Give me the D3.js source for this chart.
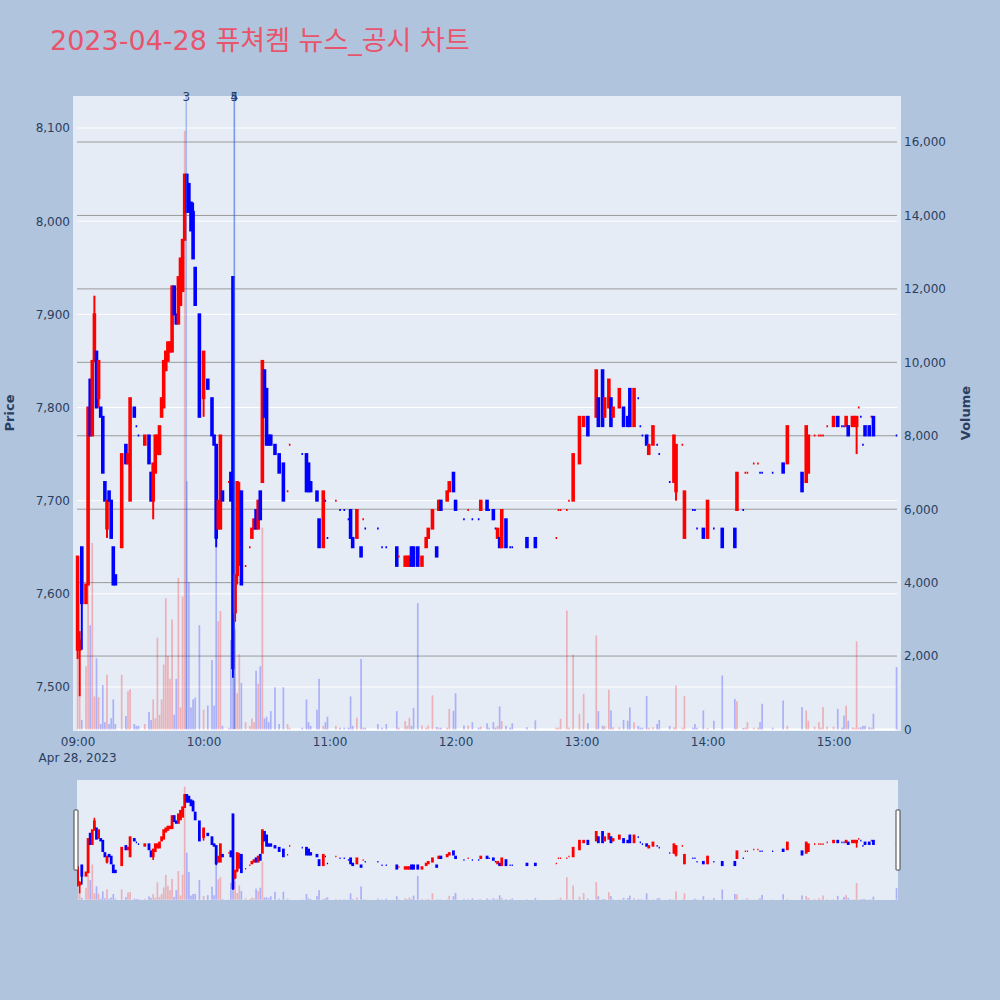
<!DOCTYPE html>
<html><head><meta charset="utf-8">
<script src="https://cdn.jsdelivr.net/npm/d3@7/dist/d3.min.js"></script>
<style>html,body{margin:0;padding:0;background:#b0c4de;}</style>
</head><body>
<svg id="chart" width="1000" height="1000" xmlns="http://www.w3.org/2000/svg"></svg>
<script>
const titleText = "2023-04-28 퓨쳐켐 뉴스_공시 차트";

const times = [
"09:00","09:01","09:02","09:04","09:05","09:06","09:07","09:08","09:09","09:10",
"09:11","09:12","09:13","09:14","09:15","09:16","09:17","09:18","09:21","09:23",
"09:24","09:25","09:27","09:28","09:29","09:32","09:34","09:35","09:36","09:37",
"09:38","09:39","09:40","09:41","09:42","09:43","09:44","09:45","09:46","09:47",
"09:48","09:49","09:50","09:51","09:52","09:53","09:54","09:55","09:56","09:58",
"10:00","10:02","10:04","10:05","10:06","10:07","10:08","10:09","10:12","10:13",
"10:14","10:15","10:16","10:17","10:18","10:20","10:22","10:23","10:24","10:25",
"10:26","10:27","10:28","10:29","10:30","10:31","10:32","10:34","10:36","10:38",
"10:40","10:41","10:47","10:49","10:50","10:51","10:54","10:55","10:57","10:58",
"10:59","11:03","11:05","11:07","11:09","11:10","11:11","11:13","11:15","11:16",
"11:17","11:23","11:25","11:27","11:32","11:33","11:36","11:37","11:38","11:39",
"11:40","11:42","11:44","11:46","11:47","11:49","11:51","11:52","11:53","11:56",
"11:57","11:59","12:00","12:04","12:06","12:08","12:11","12:12","12:15","12:16",
"12:18","12:19","12:20","12:21","12:22","12:24","12:26","12:27","12:34","12:38",
"12:48","12:49","12:50","12:53","12:54","12:56","12:59","13:01","13:03","13:07",
"13:08","13:10","13:11","13:13","13:14","13:15","13:18","13:20","13:22","13:23",
"13:25","13:27","13:28","13:29","13:31","13:32","13:34","13:36","13:37","13:42",
"13:44","13:45","13:48","13:49","13:53","13:54","13:55","13:58","14:00","14:03",
"14:07","14:13","14:14","14:17","14:18","14:19","14:22","14:24","14:25","14:26",
"14:31","14:36","14:38","14:45","14:47","14:48","14:51","14:53","14:54","14:55",
"14:57","15:00","15:02","15:04","15:05","15:06","15:07","15:09","15:10","15:11",
"15:12","15:13","15:14","15:15","15:17","15:18","15:19","15:30"
];

// [open, high, low, close]
const ohlc = [
[7540,7640,7530,7640],[7540,7560,7490,7550],[7650,7650,7540,7590],[7590,7610,7590,7610],[7610,7800,7610,7800],[7830,7830,7770,7770],[7770,7850,7770,7850],[7850,7920,7850,7900],[7860,7860,7800,7800],[7810,7850,7800,7850],
[7800,7800,7790,7790],[7790,7790,7730,7730],[7720,7720,7700,7700],[7670,7700,7660,7700],[7710,7710,7700,7700],[7700,7700,7660,7660],[7650,7650,7610,7610],[7620,7620,7610,7610],[7650,7750,7650,7750],[7760,7760,7740,7740],
[7740,7750,7740,7750],[7700,7810,7700,7810],[7800,7800,7790,7790],[7780,7780,7780,7780],[7770,7770,7770,7770],[7760,7770,7760,7770],[7770,7770,7740,7740],[7730,7730,7700,7700],[7700,7740,7680,7740],[7730,7770,7730,7770],
[7750,7770,7750,7770],[7750,7780,7750,7780],[7790,7810,7790,7810],[7800,7850,7800,7850],[7840,7860,7840,7860],[7850,7870,7850,7870],[7860,7870,7860,7870],[7860,7930,7860,7930],[7930,7930,7900,7900],[7900,7900,7890,7890],
[7890,7940,7890,7940],[7910,7960,7910,7960],[7925,7980,7925,7980],[7980,8050,7980,8050],[8050,8050,8010,8010],[8040,8040,8010,8010],[8020,8020,7990,7990],[8010,8020,7960,7960],[7950,7950,7910,7910],[7900,7900,7790,7790],
[7810,7860,7790,7860],[7830,7830,7820,7820],[7810,7810,7770,7770],[7770,7770,7760,7760],[7760,7760,7650,7660],[7670,7700,7670,7700],[7670,7770,7670,7770],[7710,7710,7700,7700],[7720,7720,7720,7720],[7730,7730,7700,7700],
[7940,7940,7510,7520],[7580,7620,7570,7620],[7620,7720,7610,7720],[7640,7720,7630,7710],[7710,7710,7610,7610],[7630,7630,7630,7630],[7650,7650,7650,7650],[7660,7670,7660,7670],[7670,7680,7670,7680],[7690,7690,7670,7670],
[7670,7700,7670,7700],[7710,7710,7680,7680],[7720,7850,7720,7850],[7840,7840,7790,7790],[7820,7820,7760,7760],[7770,7770,7760,7760],[7770,7770,7760,7760],[7760,7760,7750,7750],[7750,7750,7730,7730],[7740,7740,7700,7700],
[7710,7710,7710,7710],[7760,7760,7760,7760],[7750,7750,7750,7750],[7750,7750,7710,7710],[7740,7740,7710,7710],[7720,7720,7710,7710],[7710,7710,7700,7700],[7680,7680,7650,7650],[7650,7710,7650,7710],[7700,7700,7700,7700],
[7660,7660,7660,7660],[7700,7700,7700,7700],[7690,7690,7690,7690],[7690,7690,7690,7690],[7680,7680,7680,7680],[7690,7690,7660,7660],[7660,7660,7650,7650],[7660,7690,7660,7690],[7650,7650,7640,7640],[7680,7680,7680,7680],
[7670,7670,7670,7670],[7670,7670,7670,7670],[7650,7650,7650,7650],[7650,7650,7650,7650],[7650,7650,7630,7630],[7640,7640,7640,7640],[7630,7640,7630,7640],[7630,7640,7630,7640],[7630,7640,7630,7640],[7650,7650,7630,7630],
[7650,7650,7630,7630],[7650,7650,7630,7630],[7630,7640,7630,7640],[7650,7660,7650,7660],[7660,7670,7660,7670],[7670,7690,7670,7690],[7650,7650,7640,7640],[7690,7700,7690,7700],[7700,7700,7690,7690],[7700,7710,7700,7710],
[7710,7720,7710,7720],[7730,7730,7710,7710],[7700,7700,7690,7690],[7680,7680,7680,7680],[7690,7690,7690,7690],[7680,7680,7680,7680],[7680,7680,7680,7680],[7690,7700,7690,7700],[7700,7700,7690,7690],[7690,7690,7690,7690],
[7690,7690,7680,7680],[7670,7670,7670,7670],[7660,7670,7660,7670],[7660,7660,7650,7650],[7650,7690,7650,7690],[7680,7680,7650,7650],[7650,7650,7650,7650],[7650,7650,7650,7650],[7660,7660,7650,7650],[7660,7660,7650,7650],
[7660,7660,7660,7660],[7690,7690,7690,7690],[7690,7690,7690,7690],[7690,7690,7690,7690],[7700,7700,7700,7700],[7700,7750,7700,7750],[7740,7790,7740,7790],[7780,7790,7780,7790],[7790,7790,7770,7770],[7790,7840,7790,7840],
[7810,7810,7780,7780],[7840,7840,7780,7780],[7790,7810,7790,7810],[7800,7830,7800,7830],[7810,7810,7780,7780],[7790,7800,7790,7800],[7800,7820,7800,7820],[7800,7800,7780,7780],[7790,7790,7780,7780],[7820,7820,7780,7780],
[7780,7820,7780,7820],[7810,7810,7810,7810],[7780,7780,7780,7780],[7770,7770,7770,7770],[7770,7770,7760,7760],[7750,7760,7750,7760],[7760,7780,7760,7780],[7760,7760,7760,7760],[7750,7750,7750,7750],[7720,7720,7720,7720],
[7720,7770,7720,7770],[7710,7760,7700,7760],[7760,7760,7760,7760],[7660,7710,7660,7710],[7690,7690,7690,7690],[7690,7690,7690,7690],[7670,7670,7670,7670],[7670,7670,7660,7660],[7660,7700,7660,7700],[7670,7670,7670,7670],
[7670,7670,7650,7650],[7670,7670,7650,7650],[7690,7730,7690,7730],[7690,7690,7690,7690],[7730,7730,7730,7730],[7730,7730,7730,7730],[7740,7740,7740,7740],[7740,7740,7740,7740],[7730,7730,7730,7730],[7730,7730,7730,7730],
[7730,7730,7730,7730],[7740,7740,7730,7730],[7740,7780,7740,7780],[7730,7730,7710,7710],[7720,7780,7720,7780],[7730,7770,7730,7770],[7770,7770,7770,7770],[7770,7770,7770,7770],[7770,7770,7770,7770],[7770,7770,7770,7770],
[7780,7780,7780,7780],[7780,7790,7780,7790],[7790,7790,7780,7780],[7780,7780,7780,7780],[7780,7780,7780,7780],[7780,7790,7780,7790],[7780,7780,7770,7770],[7780,7790,7780,7790],[7780,7790,7780,7790],[7780,7790,7750,7790],
[7800,7800,7800,7800],[7790,7790,7790,7790],[7760,7760,7760,7760],[7780,7780,7770,7770],[7780,7780,7770,7770],[7790,7790,7790,7790],[7790,7790,7770,7770],[7770,7770,7770,7770]
];

const volumes = [
4700,900,260,1720,5080,2840,5080,900,1940,880,
150,1210,200,1490,150,310,820,150,1490,370,
1040,1100,150,100,100,150,480,260,820,300,
2500,400,820,1770,3570,2000,1380,3000,400,1380,
4130,600,3620,16300,6760,4010,600,820,870,2840,
540,650,1890,650,4970,2950,3230,100,50,2440,
2500,2730,990,2050,1270,200,100,300,200,1600,
1250,1720,5500,300,350,200,500,1150,150,1150,
150,50,50,820,200,100,540,1380,100,200,
350,100,50,50,50,900,100,320,1920,50,
50,150,50,150,500,50,230,100,320,100,
590,3440,110,50,110,930,70,50,50,50,
560,510,990,110,110,200,50,80,170,50,
200,50,100,630,230,100,50,170,60,250,
50,50,290,3240,50,2040,430,970,170,2560,
500,100,100,1080,520,60,60,260,240,600,
200,100,50,50,910,50,60,150,260,100,
60,1200,50,910,50,150,50,520,40,240,
1470,830,770,40,50,200,50,50,200,700,
50,790,100,610,520,240,80,200,50,610,
80,80,560,50,380,650,240,50,50,2400,
50,60,100,100,60,50,430,1700
];

const priceTicks = [7500,7600,7700,7800,7900,8000,8100];
const volumeTicks = [0,2000,4000,6000,8000,10000,12000,14000,16000];
const hourTicks = ["09:00","10:00","11:00","12:00","13:00","14:00","15:00"];
const dateLabel = "Apr 28, 2023";
const newsTimes = ["09:51:45","10:14:40","10:14:40"];
const newsLabels = ["3","4","5"];

// ---------- setup ----------
const svg = d3.select("#chart");
const FONT = "'DejaVu Sans', Verdana, sans-serif";
const TXT = "#2a3f5f";
const UP = "#ff0000", DOWN = "#0000ff";

const parseT = d3.timeParse("%Y-%m-%d %H:%M:%S");
const toDate = t => parseT("2023-04-28 " + (t.length === 5 ? t + ":00" : t));
const dates = times.map(toDate);

const PL = 73, PR = 901, PT = 96, PB = 731;
const x = d3.scaleTime().domain([toDate("08:59:43"), toDate("15:30:42")]).range([77, 898]);
const y = d3.scaleLinear().domain([7500, 8100]).range([687, 128]);
const yv = d3.scaleLinear().domain([0, 16000]).range([729.5, 142]);
const SB = 900, ST = 780;
const ys = d3.scaleLinear().domain([y.invert(PB), y.invert(PT)]).range([SB, ST]);
const yvs = d3.scaleLinear().domain([yv.invert(PB), yv.invert(PT)]).range([SB, ST]);

// direction (plotly-like: ties resolved by previous close)
const dirs = [];
ohlc.forEach((d, i) => {
  const [o, , , c] = d;
  let up;
  if (c > o) up = true;
  else if (c < o) up = false;
  else if (i === 0) up = true;
  else { const pc = ohlc[i-1][3]; up = c > pc ? true : (c < pc ? false : dirs[i-1]); }
  dirs.push(up);
});

svg.append("rect").attr("width", 1000).attr("height", 1000).attr("fill", "#b0c4de");

// title
svg.append("text").attr("x", 50).attr("y", 50)
  .attr("font-family", "'DejaVu Sans', 'Noto Sans CJK KR', sans-serif")
  .attr("font-size", 27).attr("fill", "#e8546c").text(titleText);

// plot background
svg.append("rect").attr("x", PL).attr("y", PT).attr("width", PR - PL).attr("height", PB - PT).attr("fill", "#e5ecf6");

const defs = svg.append("defs");
defs.append("clipPath").attr("id", "clipMain").append("rect")
  .attr("x", PL).attr("y", PT).attr("width", PR - PL).attr("height", PB - PT);
defs.append("clipPath").attr("id", "clipSlider").append("rect")
  .attr("x", 77).attr("y", ST).attr("width", 898 - 77).attr("height", SB - ST);

// gridlines
const grid = svg.append("g");
grid.selectAll(".pg").data(priceTicks).join("line")
  .attr("x1", 77).attr("x2", 897).attr("y1", d => y(d)).attr("y2", d => y(d))
  .attr("stroke", "#ffffff").attr("stroke-width", 1);
grid.selectAll(".vg").data(volumeTicks.filter(d => d > 0)).join("line")
  .attr("x1", 77).attr("x2", 897).attr("y1", d => yv(d)).attr("y2", d => yv(d))
  .attr("stroke", "#9a9a9a").attr("stroke-width", 1);
grid.append("line").attr("x1", 77).attr("x2", 897).attr("y1", yv(0)).attr("y2", yv(0))
  .attr("stroke", "#ffffff").attr("stroke-width", 2);

function drawSeries(g, yS, yvS, bw, lw) {
  const cg = g.append("g");
  dates.forEach((dt, i) => {
    const [o, h, l, c] = ohlc[i];
    const col = dirs[i] ? UP : DOWN;
    const cx = x(dt);
    if (h > Math.max(o, c) || l < Math.min(o, c)) {
      cg.append("line").attr("x1", cx).attr("x2", cx).attr("y1", yS(h)).attr("y2", yS(l))
        .attr("stroke", col).attr("stroke-width", lw);
    }
    const yt = yS(Math.max(o, c)), yb = yS(Math.min(o, c));
    cg.append("path")
      .attr("d", `M${cx - bw/2},${yt}H${cx + bw/2}V${yb}H${cx - bw/2}Z`)
      .attr("fill", col).attr("stroke", col).attr("stroke-width", lw).attr("stroke-linejoin", "miter");
  });
  const vg = g.append("g");
  vg.selectAll("rect").data(volumes).join("rect")
    .attr("x", (d, i) => x(dates[i]) - 0.85).attr("width", 1.7)
    .attr("y", d => yvS(d)).attr("height", d => yvS(0) - yvS(d))
    .attr("fill", (d, i) => dirs[i] ? UP : DOWN).attr("fill-opacity", 0.25);
}

const main = svg.append("g").attr("clip-path", "url(#clipMain)");
drawSeries(main, y, yv, 1.6, 2);

// news markers
const newsG = svg.append("g");
newsTimes.forEach((t, i) => {
  const nx = x(toDate(t));
  newsG.append("line").attr("x1", nx).attr("x2", nx).attr("y1", PT).attr("y2", 729)
    .attr("stroke", "rgb(65,105,225)").attr("stroke-opacity", 0.4).attr("stroke-width", 1.5);
  newsG.append("text").attr("x", nx).attr("y", 101).attr("text-anchor", "middle")
    .attr("font-family", FONT).attr("font-size", 12).attr("fill", TXT).text(newsLabels[i]);
});

// axes
const leftAxis = svg.append("g").attr("transform", `translate(${PL},0)`)
  .call(d3.axisLeft(y).tickValues(priceTicks).tickFormat(d3.format(",")).tickSize(0).tickPadding(3));
const rightAxis = svg.append("g").attr("transform", `translate(${PR},0)`)
  .call(d3.axisRight(yv).tickValues(volumeTicks).tickFormat(d3.format(",")).tickSize(0).tickPadding(3));
const bottomAxis = svg.append("g").attr("transform", `translate(0,${PB})`)
  .call(d3.axisBottom(x).tickValues(hourTicks.map(toDate)).tickFormat(d3.timeFormat("%H:%M")).tickSize(0).tickPadding(6));
[leftAxis, rightAxis, bottomAxis].forEach(a => {
  a.select(".domain").remove();
  a.selectAll("text").attr("font-family", FONT).attr("font-size", 12).attr("fill", TXT);
});
svg.append("text").attr("x", x(toDate("09:00"))).attr("y", 762).attr("text-anchor", "middle")
  .attr("font-family", FONT).attr("font-size", 12).attr("fill", TXT).text(dateLabel);

// axis titles
svg.append("text").attr("transform", "translate(14,413) rotate(-90)").attr("text-anchor", "middle")
  .attr("font-family", FONT).attr("font-size", 13).attr("font-weight", "bold").attr("fill", TXT).text("Price");
svg.append("text").attr("transform", "translate(970,413) rotate(-90)").attr("text-anchor", "middle")
  .attr("font-family", FONT).attr("font-size", 13).attr("font-weight", "bold").attr("fill", TXT).text("Volume");

// range slider
svg.append("rect").attr("x", 77).attr("y", ST).attr("width", 898 - 77).attr("height", SB - ST).attr("fill", "#e5ecf6");
const slider = svg.append("g").attr("clip-path", "url(#clipSlider)");
drawSeries(slider, ys, yvs, 1.2, 1.6);
[[74, 810], [896, 810]].forEach(([hx, hy]) => {
  svg.append("rect").attr("x", hx).attr("y", hy).attr("width", 4).attr("height", 60)
    .attr("fill", "#ffffff").attr("stroke", "#444").attr("stroke-width", 1).attr("rx", 0.5);
});
</script>
</body></html>
